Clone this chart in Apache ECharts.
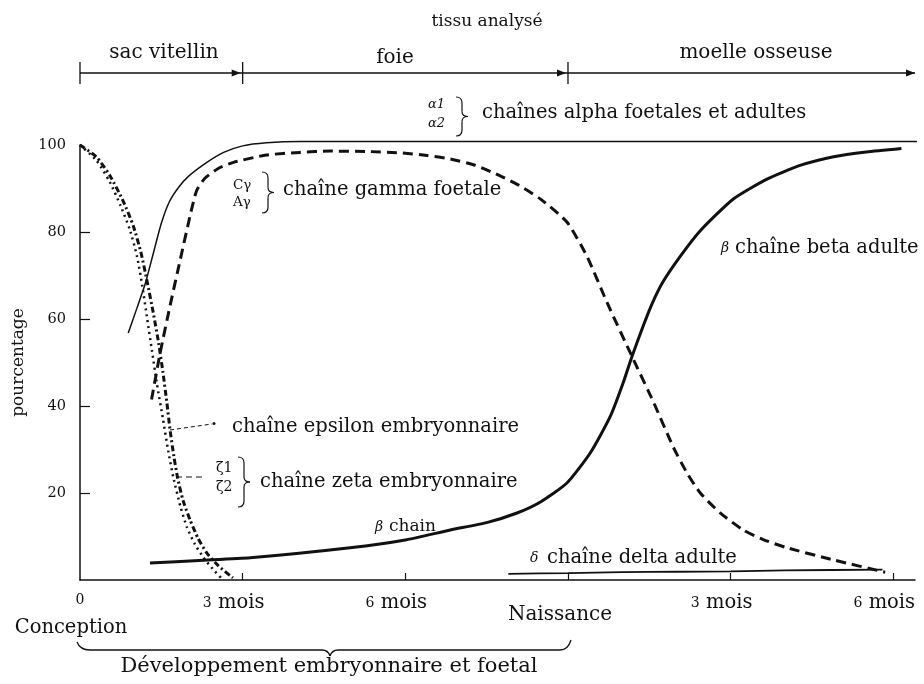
<!DOCTYPE html>
<html>
<head>
<meta charset="utf-8">
<title>Chaînes de l'hémoglobine</title>
<script src="https://cdn.jsdelivr.net/npm/echarts@6/dist/echarts.min.js"></script>
<style>
  html, body { margin: 0; padding: 0; background: #fff; }
  #chart { width: 924px; height: 684px; }
</style>
</head>
<body>
<div id="chart"></div>
<script>
// Time axis in months from conception; birth ("Naissance") falls at 9.
const xTickValues = [0, 3, 6, 9, 12, 15];
const xTickLabels = ['0', '3 mois', '6 mois', 'Naissance', '3 mois', '6 mois'];
const yTickValues = [20, 40, 60, 80, 100];

// Tissue where haemoglobin is produced, with its time span (months)
const tissueNames = ['sac vitellin', 'foie', 'moelle osseuse'];
const tissueBounds = [0, 3, 9, 15.4];

// Percentage of each globin chain, [month, %]
const alphaChain = [[0.89, 56.8], [1.05, 62.5], [1.21, 68.4], [1.35, 75], [1.5, 82], [1.65, 87],
  [1.82, 90.3], [2.0, 92.8], [2.34, 96], [2.65, 98.3], [3.0, 99.8], [3.44, 100.5], [4.06, 100.8],
  [6, 100.8], [9, 100.8], [12, 100.8], [15.45, 100.8]];
const gammaChain = [[1.32, 41.5], [1.48, 52.3], [1.66, 63], [1.85, 73.7], [2.03, 83.7], [2.15, 89.5],
  [2.3, 92.3], [2.55, 94.6], [2.83, 96], [3.44, 97.7], [4.06, 98.3], [4.61, 98.6], [5.3, 98.5],
  [5.9, 98.2], [6.4, 97.6], [6.83, 96.8], [7.3, 95.3], [7.75, 92.9], [8.1, 90.7], [8.5, 87.5],
  [8.98, 82.3], [9.35, 74.4], [9.72, 63.8], [10.18, 51.4], [10.58, 40.8], [10.94, 30.6],
  [11.2, 24.5], [11.44, 20], [11.8, 15.5], [12.23, 11.5], [12.6, 9.3], [13.04, 7.4],
  [13.9, 4.6], [14.85, 1.8]];
const betaChain = [[1.29, 3.9], [2.2, 4.5], [3.14, 5.1], [4.98, 7.4], [6, 9.2], [6.83, 11.5],
  [7.5, 13.2], [8.06, 15.4], [8.5, 18], [8.98, 22.3], [9.41, 29.2], [9.78, 37.6], [10.02, 45.4],
  [10.18, 51.4], [10.39, 58.5], [10.55, 63.5], [10.75, 68.5], [11.07, 74.4], [11.44, 80.3],
  [12.05, 87.6], [12.68, 92.2], [13.28, 95.3], [13.9, 97.3], [14.5, 98.4], [15.15, 99.2]];
const epsilonChain = [[0, 100], [0.3, 96.5], [0.55, 91.5], [0.75, 86], [0.92, 80.5], [1.05, 74.5],
  [1.15, 67.5], [1.24, 60], [1.33, 52.5], [1.42, 45], [1.53, 37], [1.63, 29.5], [1.72, 23.7],
  [1.85, 17], [1.97, 12.2], [2.12, 8.2], [2.27, 5.3], [2.45, 2.5], [2.6, 0.5]];
const zetaChain = [[0, 100], [0.3, 97.3], [0.55, 93], [0.8, 87], [0.98, 81.5], [1.12, 75.5],
  [1.24, 68.5], [1.35, 61.5], [1.45, 54.5], [1.53, 47.7], [1.6, 41], [1.66, 34.6], [1.73, 28.5],
  [1.8, 23.5], [1.9, 18.3], [2.03, 13.8], [2.18, 9.5], [2.34, 6.2], [2.55, 3.3], [2.82, 0.5]];
const deltaChain = [[7.9, 1.4], [9, 1.6], [10, 1.8], [11, 1.9], [12, 2], [13, 2.2], [14.8, 2.4]];

const INK = '#111';
const SERIF = '"DejaVu Serif", "Liberation Serif", serif';

const chart = echarts.init(document.getElementById('chart'), null, { renderer: 'canvas' });

function curve(name, data, width, dash) {
  return {
    name, type: 'line', data, smooth: 0.2, symbol: 'none', clip: false,
    lineStyle: { color: INK, width, type: dash || 'solid', cap: 'butt' },
    emphasis: { disabled: true }
  };
}

// "3 mois": small old-style digit followed by the unit word
function tickLabel(v) {
  const i = xTickValues.indexOf(v);
  if (i < 0) return '';
  const s = xTickLabels[i];
  if (v === 9) return '{n|' + s + '}';
  const parts = s.split(' ');
  if (parts.length === 1) return '{d|' + s + '}';
  return '{d|' + parts[0] + '}{m| ' + parts[1] + '}';
}

chart.setOption({
  backgroundColor: '#fff',
  animation: false,
  grid: { left: 80, right: 9, top: 145, bottom: 104 },
  xAxis: {
    type: 'value', min: 0, max: 15.4, interval: 3,
    splitLine: { show: false },
    axisLine: { lineStyle: { color: INK, width: 1.5 } },
    axisTick: { inside: true, length: 7, lineStyle: { color: INK, width: 1.2 }, customValues: [3, 6, 9, 12, 15] },
    axisLabel: {
      customValues: xTickValues,
      color: INK, fontFamily: SERIF, fontSize: 14, margin: 13,
      formatter: tickLabel,
      rich: {
        d: { fontFamily: SERIF, fontSize: 14, color: INK },
        m: { fontFamily: SERIF, fontSize: 19.5, color: INK, padding: [0, 18, 0, 0] },
        n: { fontFamily: SERIF, fontSize: 20, color: INK, padding: [12, 16, 0, 0] }
      }
    }
  },
  yAxis: {
    type: 'value', min: 0, max: 100, interval: 20,
    name: 'pourcentage', nameLocation: 'middle', nameGap: 52, nameRotate: 90,
    nameTextStyle: { color: INK, fontFamily: SERIF, fontSize: 17 },
    splitLine: { show: false },
    axisLine: { show: true, lineStyle: { color: INK, width: 1.5 } },
    axisTick: { show: true, inside: true, length: 10, lineStyle: { color: INK, width: 1.2 }, customValues: [20, 40, 60, 80] },
    axisLabel: { customValues: yTickValues, color: INK, fontFamily: SERIF, fontSize: 14.5, margin: 14 }
  },
  series: [
    curve('alpha', alphaChain, 1.5),
    curve('gamma', gammaChain, 3, [10, 6]),
    curve('beta', betaChain, 3),
    curve('epsilon', epsilonChain, 2.5, [2, 4]),
    curve('zeta', zetaChain, 3, [6, 3, 2, 3]),
    curve('delta', deltaChain, 1.8)
  ]
});

// Decorations drawn on top: tissue arrow, brackets and curve annotations
const px = (m, v) => chart.convertToPixel({ gridIndex: 0 }, [m, v || 0]);
const ARROW_Y = 73;
const BODY = '19.5px ' + SERIF;

function text(str, x, y, opts) {
  return {
    type: 'text', x, y, silent: true,
    style: Object.assign({ text: str, fill: INK, font: BODY, textAlign: 'left', textVerticalAlign: 'middle' }, opts || {})
  };
}
function line(x1, y1, x2, y2, w, dash) {
  return { type: 'line', silent: true, shape: { x1, y1, x2, y2 }, style: { stroke: INK, lineWidth: w || 1.2, lineDash: dash || null } };
}
function quad(x1, y1, cx, cy, x2, y2, w) {
  return { type: 'bezierCurve', silent: true, shape: { x1, y1, x2, y2, cpx1: cx, cpy1: cy }, style: { stroke: INK, lineWidth: w || 1.2, fill: null } };
}
function arrowHead(x, y) {
  return { type: 'polygon', silent: true, shape: { points: [[x, y], [x - 9, y - 3.5], [x - 9, y + 3.5]] }, style: { fill: INK } };
}
// vertical closing brace "}" spanning y1..y2, starting at x
function brace(x, y1, y2, w) {
  const m = (y1 + y2) / 2, h = x + w / 2;
  return {
    type: 'group', silent: true,
    children: [
      quad(x, y1, h, y1, h, y1 + 6),
      line(h, y1 + 6, h, m - 5),
      quad(h, m - 5, h, m, x + w, m),
      quad(x + w, m, h, m, h, m + 5),
      line(h, m + 5, h, y2 - 6),
      quad(h, y2 - 6, h, y2, x, y2)
    ]
  };
}

const g = [];
g.push(text('tissu analysé', 487, 22, { textAlign: 'center', font: '17px ' + SERIF }));
const bx = tissueBounds.map(m => px(m)[0]);
const labelX = [164, 395, 756];
const labelY = [53, 58, 53];
g.push(line(bx[0], ARROW_Y, bx[3], ARROW_Y, 1.4));
for (let i = 0; i < tissueNames.length; i++) {
  g.push(line(bx[i], ARROW_Y - 11, bx[i], ARROW_Y + 11, 1.3));
  g.push(arrowHead(i < 2 ? bx[i + 1] - 2 : bx[i + 1], ARROW_Y));
  g.push(text(tissueNames[i], labelX[i], labelY[i], { textAlign: 'center', font: '20px ' + SERIF }));
}

// alpha chains
g.push(text('α1', 428, 105, { font: 'italic 13px ' + SERIF }));
g.push(text('α2', 428, 124, { font: 'italic 13px ' + SERIF }));
g.push(brace(456, 97, 136, 12));
g.push(text('chaînes alpha foetales et adultes', 482, 113));

// gamma chain
g.push(text('Cγ', 233, 185, { font: '13.5px ' + SERIF }));
g.push(text('Aγ', 233, 202, { font: '13.5px ' + SERIF }));
g.push(brace(262, 172, 213, 12));
g.push(text('chaîne gamma foetale', 283, 190));

// beta chain
g.push(text('β', 721, 248, { font: 'italic 14px ' + SERIF }));
g.push(text('chaîne beta adulte', 735, 248));
g.push(text('β', 375, 527, { font: 'italic 14px ' + SERIF }));
g.push(text('chain', 389, 527, { font: '17px ' + SERIF }));

// epsilon chain
g.push(line(170, 430, 212, 424, 1, [4, 3]));
g.push({ type: 'circle', silent: true, shape: { cx: 214, cy: 423.5, r: 1.5 }, style: { fill: INK } });
g.push(text('chaîne epsilon embryonnaire', 232, 427));

// zeta chain
g.push(line(176, 477, 206, 477, 1, [6, 4]));
g.push(text('ζ1', 216, 468, { font: '14px ' + SERIF }));
g.push(text('ζ2', 216, 487, { font: '14px ' + SERIF }));
g.push(brace(238, 457, 507, 12));
g.push(text('chaîne zeta embryonnaire', 260, 482));

// delta chain
g.push(text('δ', 530, 558, { font: 'italic 14px ' + SERIF }));
g.push(text('chaîne delta adulte', 547, 558));

// developmental period under the axis
g.push(text('Conception', 71, 628, { textAlign: 'center', font: '19.5px ' + SERIF }));
g.push(quad(77, 642, 80, 650, 90, 650, 1.3));
g.push(line(90, 650, 322, 650, 1.3));
g.push(quad(322, 650, 328, 650, 330, 656, 1.3));
g.push(quad(330, 656, 332, 650, 338, 650, 1.3));
g.push(line(338, 650, 560, 650, 1.3));
g.push(quad(560, 650, 568, 650, 571, 640, 1.3));
g.push(text('Développement embryonnaire et foetal', 329, 667, { textAlign: 'center', font: '21px ' + SERIF }));

chart.setOption({ graphic: { elements: g } });
</script>
</body>
</html>
